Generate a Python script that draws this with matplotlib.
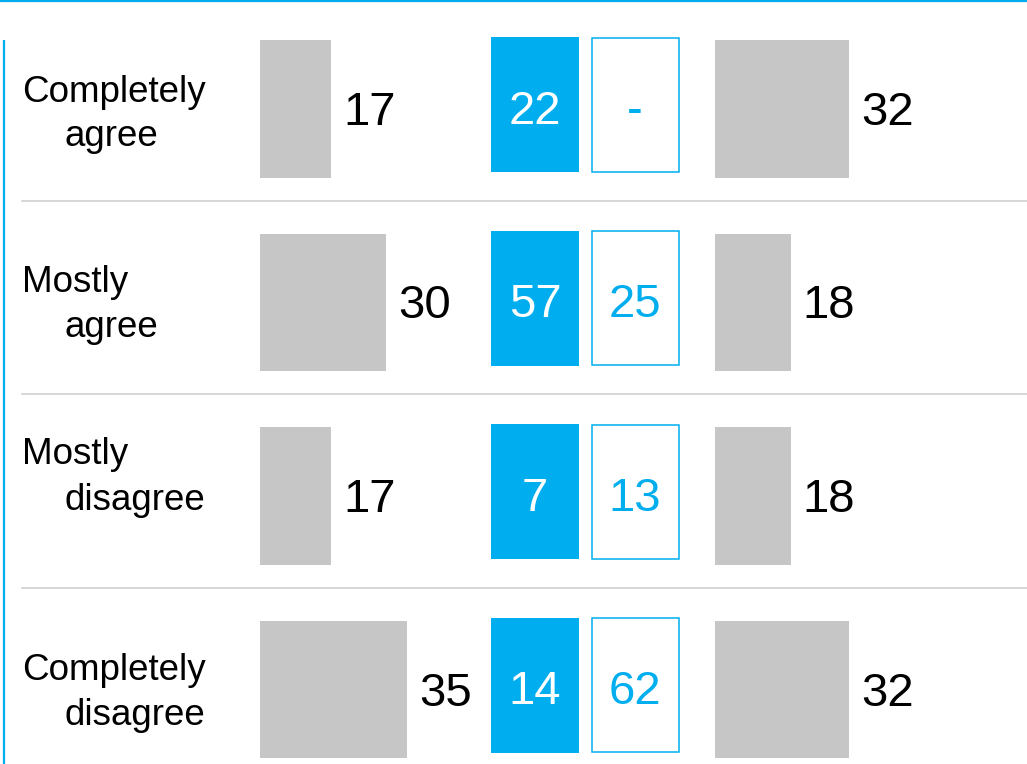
import matplotlib.pyplot as plt

plt.rcParams['font.family'] = ['Liberation Sans', 'DejaVu Sans']

# answer labels (first line, second line) and the four columns of shares
answer_top = ['Completely', 'Mostly', 'Mostly', 'Completely']
answer_bottom = ['agree', 'agree', 'disagree', 'disagree']
left_share = [17, 30, 17, 35]
blue_share = [22, 57, 7, 14]
outline_share = [None, 25, 13, 62]
right_share = [32, 18, 18, 32]

BLUE = '#00AEEF'
GRAY = '#C6C6C6'
W, H = 1027, 764
ROW_PX = 193.5      # pixel distance between rows
FIRST_ROW = 109     # pixel centre of the first row


def px_row(p):
    # pixel y (from top) -> row units
    return (p - FIRST_ROW) / ROW_PX


fig = plt.figure(figsize=(W / 100, H / 100), dpi=100)
ax = fig.add_axes([0, 0, 1, 1])
ax.set_xlim(0, W)
ax.set_ylim(px_row(H), px_row(0))
ax.axis('off')

rows = list(range(len(answer_top)))

# frame lines: top rule, left rule, row separators
ax.axhline(px_row(1), color=BLUE, lw=1.6)
ax.plot([4, 4], [px_row(40), px_row(H)], color=BLUE, lw=1.6, solid_capstyle='butt')
for r in rows[:-1]:
    ax.plot([22, W], [r + 0.475, r + 0.475], color='#D0D0D0', lw=1.2)

# answer labels, second line indented
top_off = [-7, -10.5, -32.5, -9.5]
bottom_off = [37, 34.5, 13.5, 35.5]
for r in rows:
    ax.annotate(answer_top[r], (22, r), xytext=(0, -top_off[r]), textcoords='offset pixels',
                fontsize=26.5, va='baseline', ha='left')
    ax.annotate(answer_bottom[r], (64, r), xytext=(0, -bottom_off[r]), textcoords='offset pixels',
                fontsize=26.5, va='baseline', ha='left')

# filled and outlined tiles in the middle
box_y = [r - 0.023 for r in rows]
ax.barh(box_y, 88, left=491, height=0.698, color=BLUE, linewidth=0)
ax.barh(box_y, 87, left=591.5, height=0.692, color='white', edgecolor=BLUE, linewidth=1.1)
for r, y in zip(rows, box_y):
    ax.annotate(str(blue_share[r]), (535, y), xytext=(0, -19), textcoords='offset pixels',
                fontsize=34, color='white', ha='center', va='baseline')
    txt = '-' if outline_share[r] is None else str(outline_share[r])
    ax.annotate(txt, (635, y), xytext=(0, -19), textcoords='offset pixels',
                fontsize=34, color=BLUE, ha='center', va='baseline')

# gray bars, 4.2 px per percentage point
for x0, shares in [(260, left_share), (715, right_share)]:
    bx = fig.add_axes([x0 / W, 0, 210 / W, 1], sharey=ax)
    bx.set_xlim(0, 50)
    bx.axis('off')
    bx.patch.set_visible(False)
    bx.barh(rows, shares, left=0, height=0.71, color=GRAY, linewidth=0)
    for r, v in zip(rows, shares):
        bx.annotate(str(v), (v, r), xytext=(12, -16), textcoords='offset pixels',
                    fontsize=34, ha='left', va='baseline', annotation_clip=False)

ax.set_ylim(px_row(H), px_row(0))
fig.savefig('out.png', dpi=100)
